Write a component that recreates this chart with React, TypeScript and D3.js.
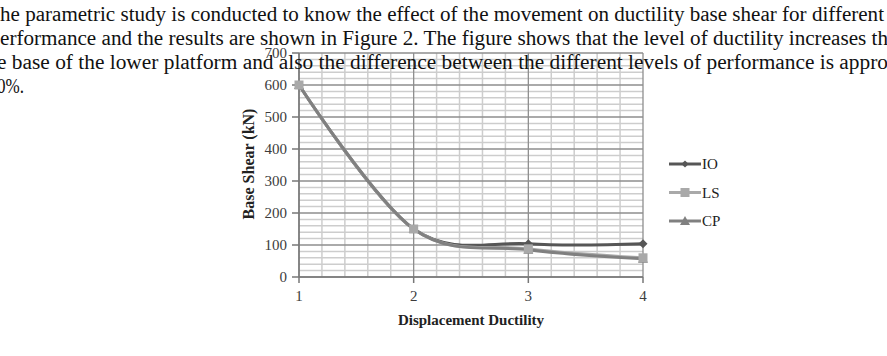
import React from 'react';
import * as d3 from 'd3';

// chart values
const ductility = [1, 2, 3, 4];
const ioValues = [600, 150, 104, 104];
const lsValues = [600, 150, 88, 60];
const cpValues = [600, 150, 85, 57];
const yTicks = [0, 100, 200, 300, 400, 500, 600, 700];
const xTicks = [1, 2, 3, 4];
const seriesNames = ['IO', 'LS', 'CP'];

// paragraph lines around the figure (cropped page)
const paragraph = [
  'he parametric study is conducted to know the effect of the movement on ductility base shear for different',
  'erformance and the results are shown in Figure 2. The figure shows that the level of ductility increases th',
  'e base of the lower platform and also the difference between the different levels of performance is appro',
  '0%.',
];
const paragraphSpan = [
  [0, 884],
  [0, 888],
  [-3, 888],
  [-3, 24],
];

const W = 887;
const H = 356;

const App: React.FC = () => {
  const x = d3.scaleLinear().domain([1, 4]).range([299, 643]);
  const y = d3.scaleLinear().domain([0, 700]).range([277, 53]);

  const line = d3
    .line<number>()
    .x((_, i) => x(ductility[i]))
    .y((d) => y(d))
    .curve(d3.curveCardinal.tension(0));

  const series = [
    { name: seriesNames[0], values: ioValues, color: '#565656', marker: 'diamond' },
    { name: seriesNames[1], values: lsValues, color: '#a9a9a9', marker: 'square' },
    { name: seriesNames[2], values: cpValues, color: '#808080', marker: 'triangle' },
  ];

  const minorY = d3.range(0, 701, 20).filter((v) => v % 100 !== 0);
  const minorX = d3.range(1, 4.001, 0.2).filter((v) => Math.abs(v - Math.round(v)) > 0.01);

  const marker = (kind: string, cx: number, cy: number, color: string, s = 1) => {
    if (kind === 'diamond') {
      const r = 4.5 * s;
      return (
        <path
          d={`M${cx},${cy - r}L${cx + r},${cy}L${cx},${cy + r}L${cx - r},${cy}Z`}
          fill={color}
        />
      );
    }
    if (kind === 'square') {
      const r = 4.5 * s;
      return <rect x={cx - r} y={cy - r} width={2 * r} height={2 * r} fill={color} />;
    }
    const r = 5 * s;
    return (
      <path
        d={`M${cx},${cy - r}L${cx + r},${cy + r * 0.8}L${cx - r},${cy + r * 0.8}Z`}
        fill={color}
      />
    );
  };

  // markers drawn after all lines; squares last as in the figure
  const markerOrder = [series[0], series[2], series[1]];

  return (
    <svg
      width={W}
      height={H}
      style={{ position: 'absolute', left: 0, top: 0, background: '#fff' }}
      fontFamily="'Liberation Serif', 'Times New Roman', serif"
    >
      <rect width={W} height={H} fill="#fff" />

      {/* minor grid */}
      <g stroke="#cdcdcd" strokeWidth={1.5}>
        {minorY.map((v) => (
          <line key={'my' + v} x1={x(1)} x2={x(4)} y1={y(v)} y2={y(v)} />
        ))}
        {minorX.map((v) => (
          <line key={'mx' + v} x1={x(v)} x2={x(v)} y1={y(0)} y2={y(700)} />
        ))}
      </g>

      {/* major grid */}
      <g stroke="#8e8e8e" strokeWidth={1.3}>
        {yTicks.map((v) => (
          <line key={'gy' + v} x1={x(1)} x2={x(4)} y1={y(v)} y2={y(v)} />
        ))}
        {xTicks.map((v) => (
          <line key={'gx' + v} x1={x(v)} x2={x(v)} y1={y(0)} y2={y(700)} />
        ))}
      </g>

      {/* axes */}
      <g stroke="#777" strokeWidth={1.5}>
        <line x1={x(1)} x2={x(1)} y1={y(0)} y2={y(700)} />
        <line x1={x(1)} x2={x(4)} y1={y(0)} y2={y(0)} />
        {yTicks.map((v) => (
          <line key={'ty' + v} x1={x(1) - 7} x2={x(1)} y1={y(v)} y2={y(v)} />
        ))}
        {xTicks.map((v) => (
          <line key={'tx' + v} x1={x(v)} x2={x(v)} y1={y(0)} y2={y(0) + 6} />
        ))}
      </g>

      {/* tick labels */}
      <g fontSize={15} fill="#3c3c3c" textAnchor="end">
        {yTicks.map((v) => (
          <text key={'ly' + v} x={287} y={y(v) + 5}>
            {v}
          </text>
        ))}
      </g>
      <g fontSize={15} fill="#3c3c3c" textAnchor="middle">
        {xTicks.map((v) => (
          <text key={'lx' + v} x={x(v)} y={301}>
            {v}
          </text>
        ))}
      </g>

      {/* axis titles */}
      <text
        x={471}
        y={325}
        textAnchor="middle"
        fontSize={15}
        fontWeight="bold"
        fill="#222"
      >
        Displacement Ductility
      </text>
      <text
        transform="translate(254,164) rotate(-90)"
        textAnchor="middle"
        fontSize={16}
        fontWeight="bold"
        fill="#222"
      >
        Base Shear (kN)
      </text>

      {/* series lines */}
      {series.map((s) => (
        <path
          key={'ln' + s.name}
          d={line(s.values) ?? ''}
          fill="none"
          stroke={s.color}
          strokeWidth={3}
        />
      ))}
      {/* series markers */}
      {markerOrder.map((s) => (
        <g key={'mk' + s.name}>
          {s.values.map((v, i) => (
            <g key={i}>{marker(s.marker, x(ductility[i]), y(v), s.color)}</g>
          ))}
        </g>
      ))}

      {/* legend */}
      {series.map((s, i) => {
        const ly = 164 + i * 28.5;
        return (
          <g key={'lg' + s.name}>
            <line x1={669} x2={701} y1={ly} y2={ly} stroke={s.color} strokeWidth={3} />
            {marker(s.marker, 685, ly, s.color, s.marker === 'diamond' ? 0.8 : 1)}
            <text x={702} y={ly + 5} fontSize={15} fill="#222">
              {s.name}
            </text>
          </g>
        );
      })}

      {/* surrounding paragraph */}
      <g fontSize={20} fill="#111">
        {paragraph.map((t, i) => (
          <text
            key={'p' + i}
            x={paragraphSpan[i][0]}
            y={21 + i * 24}
            textLength={paragraphSpan[i][1] - paragraphSpan[i][0]}
            lengthAdjust="spacingAndGlyphs"
          >
            {t}
          </text>
        ))}
      </g>
    </svg>
  );
};

export default App;
